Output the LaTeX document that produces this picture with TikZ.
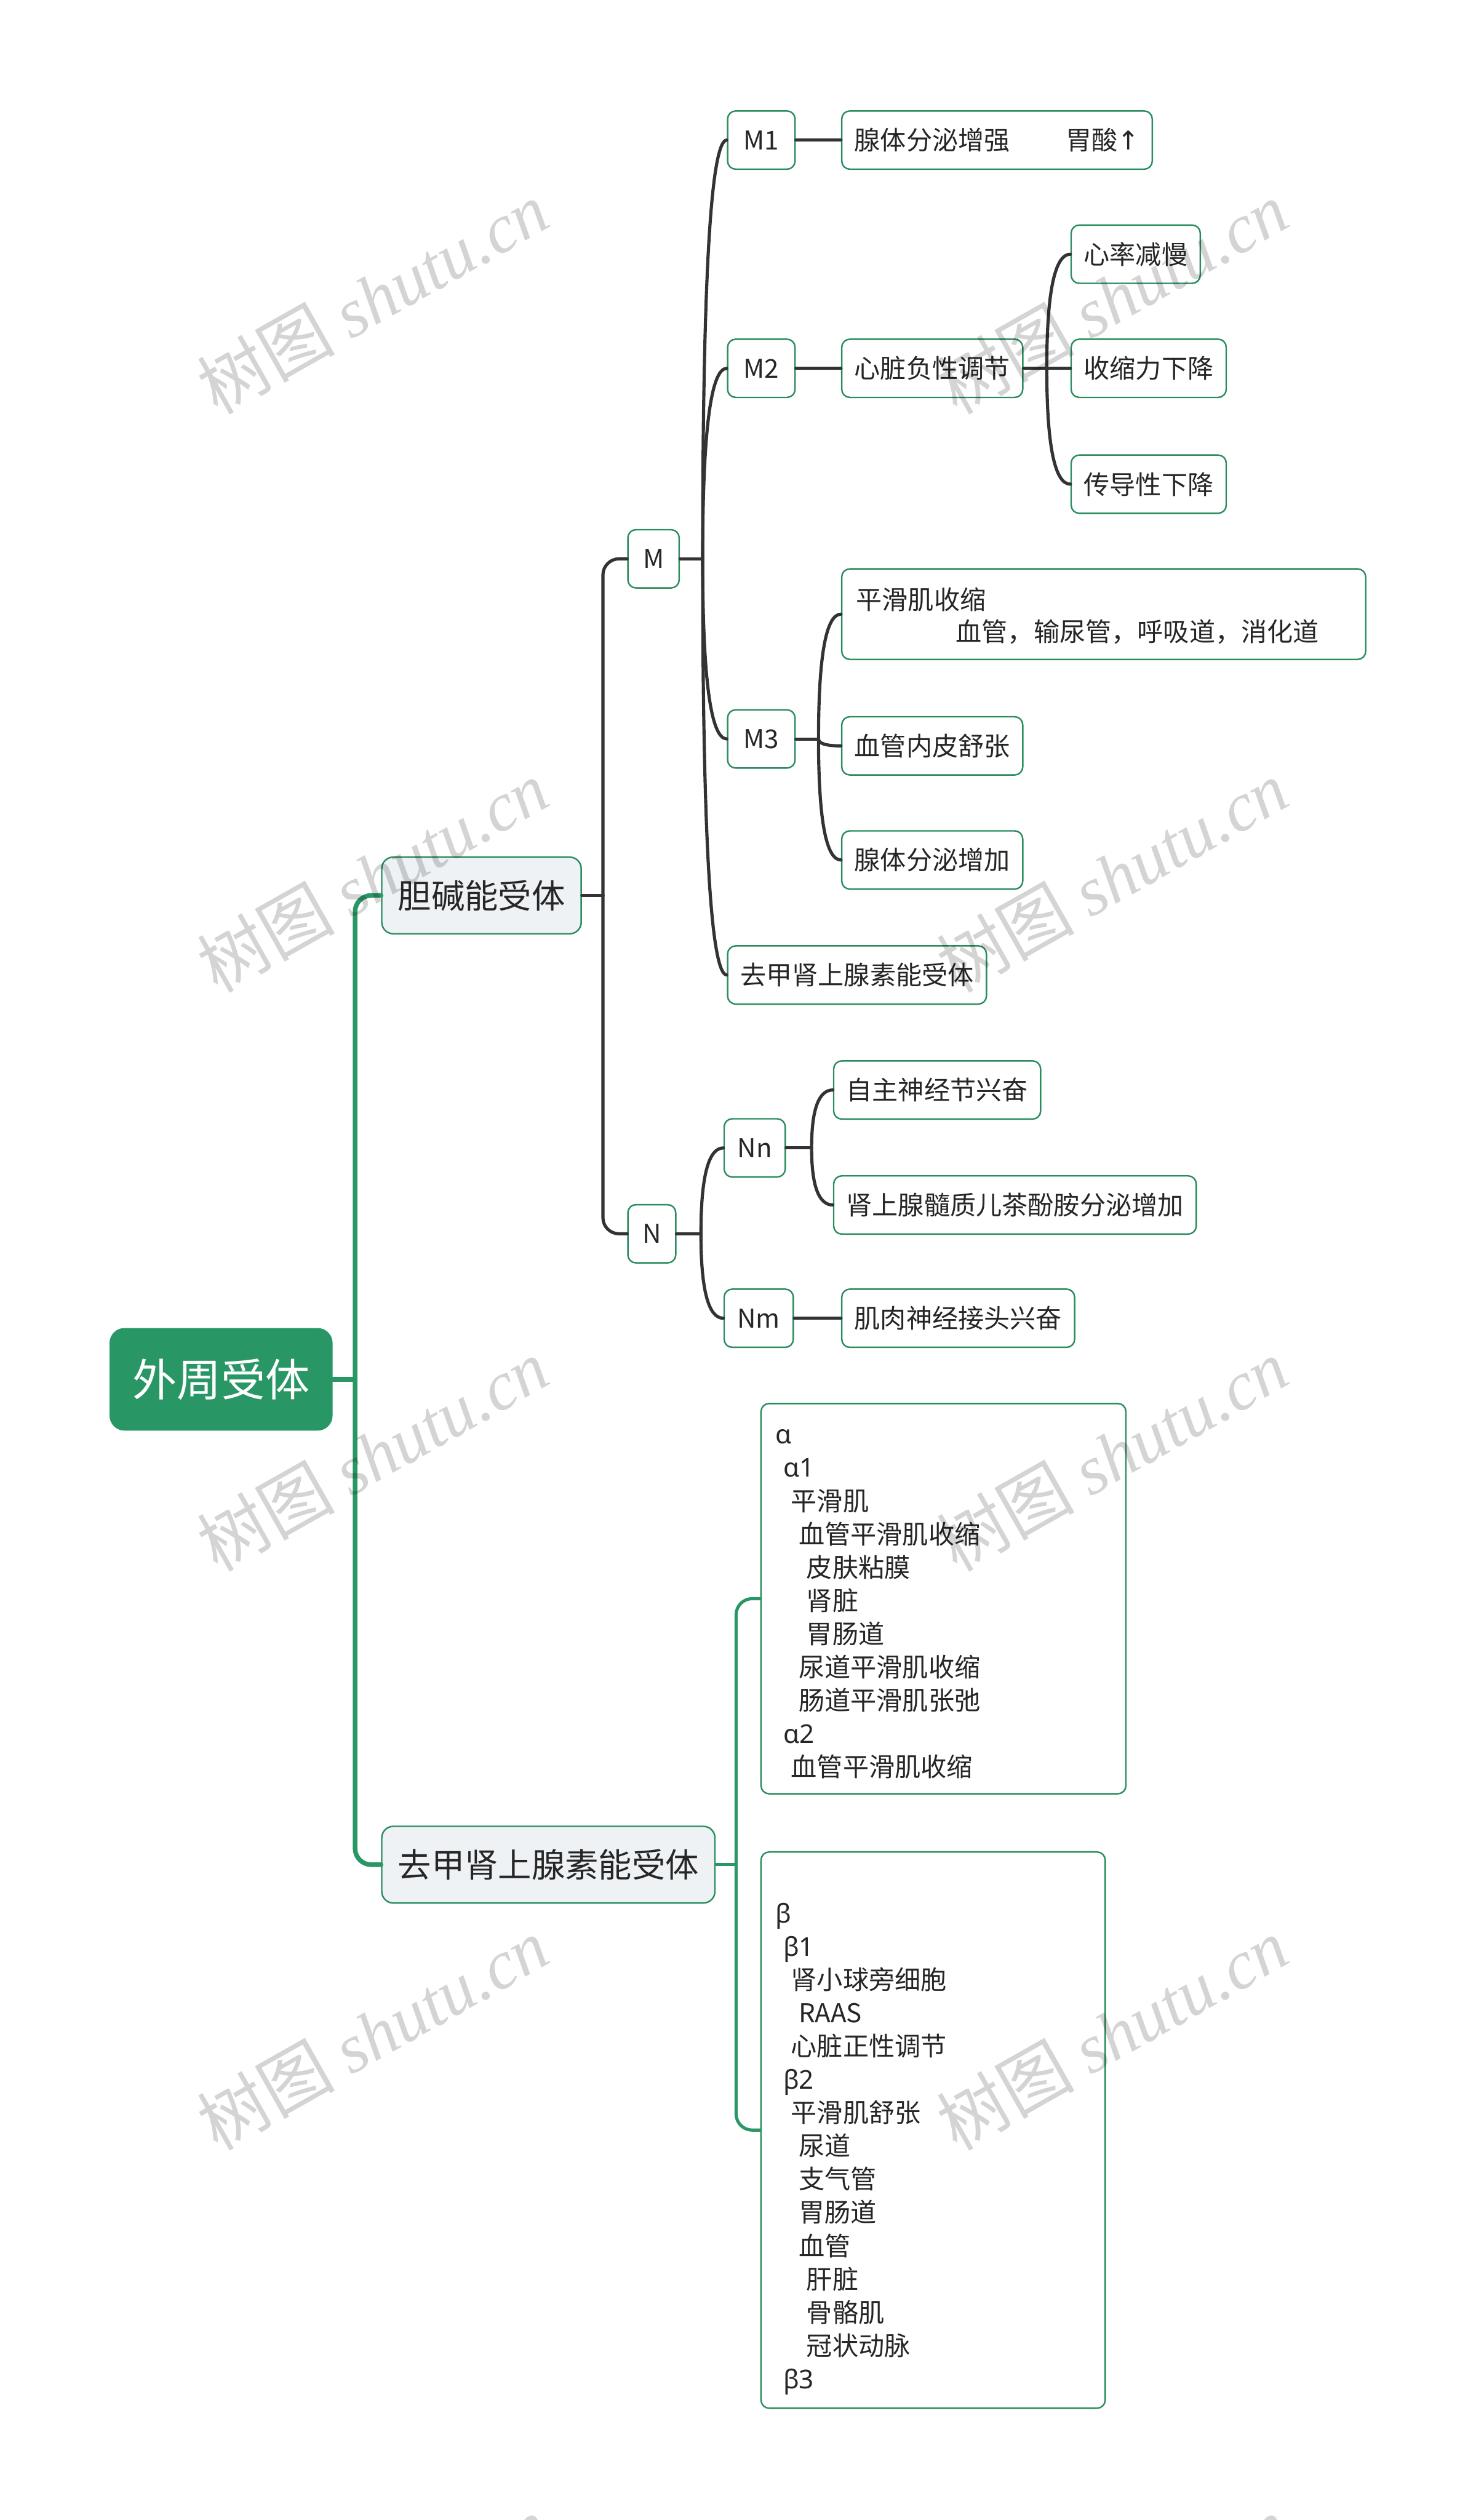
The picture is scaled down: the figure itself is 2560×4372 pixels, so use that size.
\documentclass[tikz,border=0pt]{standalone}
\usepackage{fontspec}
\setmainfont{Noto Sans CJK SC}
\newfontfamily\gkfont{Noto Sans}
\newfontfamily\wmserif{Liberation Serif}
\newfontfamily\arrowfont{DejaVu Sans}
\usetikzlibrary{calc}
\definecolor{rootgreen}{RGB}{41,151,101}
\definecolor{bordgreen}{RGB}{43,140,95}
\definecolor{lvfill}{RGB}{238,242,245}
\definecolor{darkline}{RGB}{51,51,51}
\definecolor{txt}{RGB}{38,38,38}
\newcommand{\myind}[1]{\hspace*{\dimexpr13.5pt*#1\relax}}
\newcommand{\gk}[1]{{\gkfont #1}}
\newcommand{\qlink}[3]{%
  \coordinate (#2-#3-q) at (#2 |- #3.west);
  \draw[#1] (#2) .. controls ($(#2)!0.6667!(#2-#3-q)$) and ($(#3.west)!0.6667!(#2-#3-q)$) .. (#3.west);}
\tikzset{
  basebox/.style={draw=bordgreen, line width=2.6pt, rounded corners=14pt, fill=white, text=txt,
    inner xsep=22pt, inner ysep=0pt, minimum height=101pt, font=\fontsize{45}{57.7}\selectfont, anchor=west},
  lvbox/.style={basebox, fill=lvfill, rounded corners=20pt, inner xsep=28pt, minimum height=133pt,
    font=\fontsize{58}{70}\selectfont},
  rootbox/.style={fill=rootgreen, text=white, rounded corners=26pt, minimum width=387pt,
    minimum height=178pt, inner sep=0pt, font=\fontsize{77}{90}\selectfont},
  listbox/.style={basebox, align=left, inner xsep=25pt},
  trunk/.style={draw=rootgreen, line width=8pt, rounded corners=28pt, line cap=round},
  glink/.style={draw=rootgreen, line width=5.5pt, rounded corners=28pt, line cap=round},
  dlink/.style={draw=darkline, line width=5.5pt, line cap=round},
  delbow/.style={dlink, rounded corners=28pt},
  wm/.style={text=black, opacity=0.17, rotate=29.5, inner sep=0pt, font=\fontsize{120}{120}\selectfont},
}
\begin{document}
\begin{tikzpicture}[x=1pt,y=-1pt]
\fill[white] (0,0) rectangle (2560,4372);
\useasboundingbox (0,0) rectangle (2560,4372);

% nodes
\node[rootbox] (root) at (383.5,2393) {外周受体};
\node[lvbox] (chol) at (661,1553.5) {胆碱能受体};
\node[lvbox] (adr) at (661,3235) {去甲肾上腺素能受体};

\node[basebox, minimum width=89pt] (M) at (1088,969.5) {M};
\node[basebox, minimum width=83pt] (N) at (1088,2140.5) {N};

\node[basebox, minimum width=117pt] (M1) at (1261,243) {M1};
\node[basebox, minimum width=117pt] (M2) at (1261,639) {M2};
\node[basebox, minimum width=117pt] (M3) at (1261,1282) {M3};
\node[basebox] (adrM) at (1261,1691.5) {去甲肾上腺素能受体};

\node[basebox] (xt1) at (1459,243) {腺体分泌增强\hspace{97pt}胃酸{\arrowfont ↑}};
\node[basebox] (xz) at (1459,639) {心脏负性调节};
\node[basebox] (xl) at (1857,441) {心率减慢};
\node[basebox] (ss) at (1857,639) {收缩力下降};
\node[basebox] (cd) at (1857,840) {传导性下降};

\node[listbox, text width=859pt, minimum height=157pt, font=\fontsize{45}{56}\selectfont] (ph) at (1459,1065.5)
  {\rule{0pt}{55.8pt}平滑肌收缩\\\strut\hspace*{173pt}血管，输尿管，呼吸道，消化道};
\node[basebox] (nps) at (1459,1294) {血管内皮舒张};
\node[basebox] (xt2) at (1459,1492) {腺体分泌增加};

\node[basebox, minimum width=106pt] (Nn) at (1255,1991.5) {Nn};
\node[basebox, minimum width=120pt] (Nm) at (1255,2287) {Nm};
\node[basebox] (zz) at (1445,1891) {自主神经节兴奋};
\node[basebox] (ssz) at (1445,2090.5) {肾上腺髓质儿茶酚胺分泌增加};
\node[basebox] (jr) at (1459,2287) {肌肉神经接头兴奋};

\node[listbox, text width=583pt, minimum height=677pt] (al) at (1319,2773.5) {%
\rule{0pt}{57.4pt}\gk{α}\\
\myind{1}\strut\gk{α1}\\
\myind{2}\strut 平滑肌\\
\myind{3}\strut 血管平滑肌收缩\\
\myind{4}\strut 皮肤粘膜\\
\myind{4}\strut 肾脏\\
\myind{4}\strut 胃肠道\\
\myind{3}\strut 尿道平滑肌收缩\\
\myind{3}\strut 肠道平滑肌张弛\\
\myind{1}\strut\gk{α2}\\
\myind{2}\strut 血管平滑肌收缩};

\node[listbox, text width=547pt, minimum height=965pt] (be) at (1319,3695.5) {%
\rule{0pt}{48.4pt}\\
\strut\gk{β}\\
\myind{1}\strut\gk{β1}\\
\myind{2}\strut 肾小球旁细胞\\
\myind{3}\strut RAAS\\
\myind{2}\strut 心脏正性调节\\
\myind{1}\strut\gk{β2}\\
\myind{2}\strut 平滑肌舒张\\
\myind{3}\strut 尿道\\
\myind{3}\strut 支气管\\
\myind{3}\strut 胃肠道\\
\myind{3}\strut 血管\\
\myind{4}\strut 肝脏\\
\myind{4}\strut 骨骼肌\\
\myind{4}\strut 冠状动脉\\
\myind{1}\strut\gk{β3}};

% connectors
\coordinate (j0) at (616,2393);
\draw[trunk] (root.east) -- (j0);
\draw[trunk] (j0) |- (chol.west);
\draw[trunk] (j0) |- (adr.west);

\coordinate (j1) at (1046,1553.5);
\draw[dlink] (chol.east) -- (j1);
\draw[delbow] (j1) |- (M.west);
\draw[delbow] (j1) |- (N.west);

\coordinate (j2) at (1219,969.5);
\draw[dlink] (M.east) -- (j2);
\qlink{dlink}{j2}{M1}
\qlink{dlink}{j2}{M2}
\qlink{dlink}{j2}{M3}
\qlink{dlink}{j2}{adrM}

\draw[dlink] (M1.east) -- (xt1.west);
\draw[dlink] (M2.east) -- (xz.west);

\coordinate (j6) at (1816,639);
\draw[dlink] (xz.east) -- (j6);
\qlink{dlink}{j6}{xl}
\qlink{dlink}{j6}{ss}
\qlink{dlink}{j6}{cd}

\coordinate (j3) at (1420,1282);
\draw[dlink] (M3.east) -- (j3);
\qlink{dlink}{j3}{ph}
\qlink{dlink}{j3}{nps}
\qlink{dlink}{j3}{xt2}

\coordinate (j4) at (1216,2140.5);
\draw[dlink] (N.east) -- (j4);
\qlink{dlink}{j4}{Nn}
\qlink{dlink}{j4}{Nm}

\coordinate (j5) at (1408,1991.5);
\draw[dlink] (Nn.east) -- (j5);
\qlink{dlink}{j5}{zz}
\qlink{dlink}{j5}{ssz}

\draw[dlink] (Nm.east) -- (jr.west);

\coordinate (j7) at (1277,3235);
\draw[glink] (adr.east) -- (j7);
\draw[glink] (j7) |- (al.west);
\draw[glink] (j7) |- (be.west);

% watermarks
\begin{scope}
\clip (0,0) rectangle (2560,4372);
\foreach \wx/\wy/\wn in {646/516/1, 1929/516/2, 646/1520/3, 1929/1520/4, 646/2524/5, 1929/2524/6, 646/3528/7, 1929/3528/8, 646/4532/9, 1929/4532/10}{
  \node[wm] (wm\wn) at (\wx,\wy) {树图 {\wmserif\itshape shutu.cn}};
}
\end{scope}
\end{tikzpicture}
\end{document}
